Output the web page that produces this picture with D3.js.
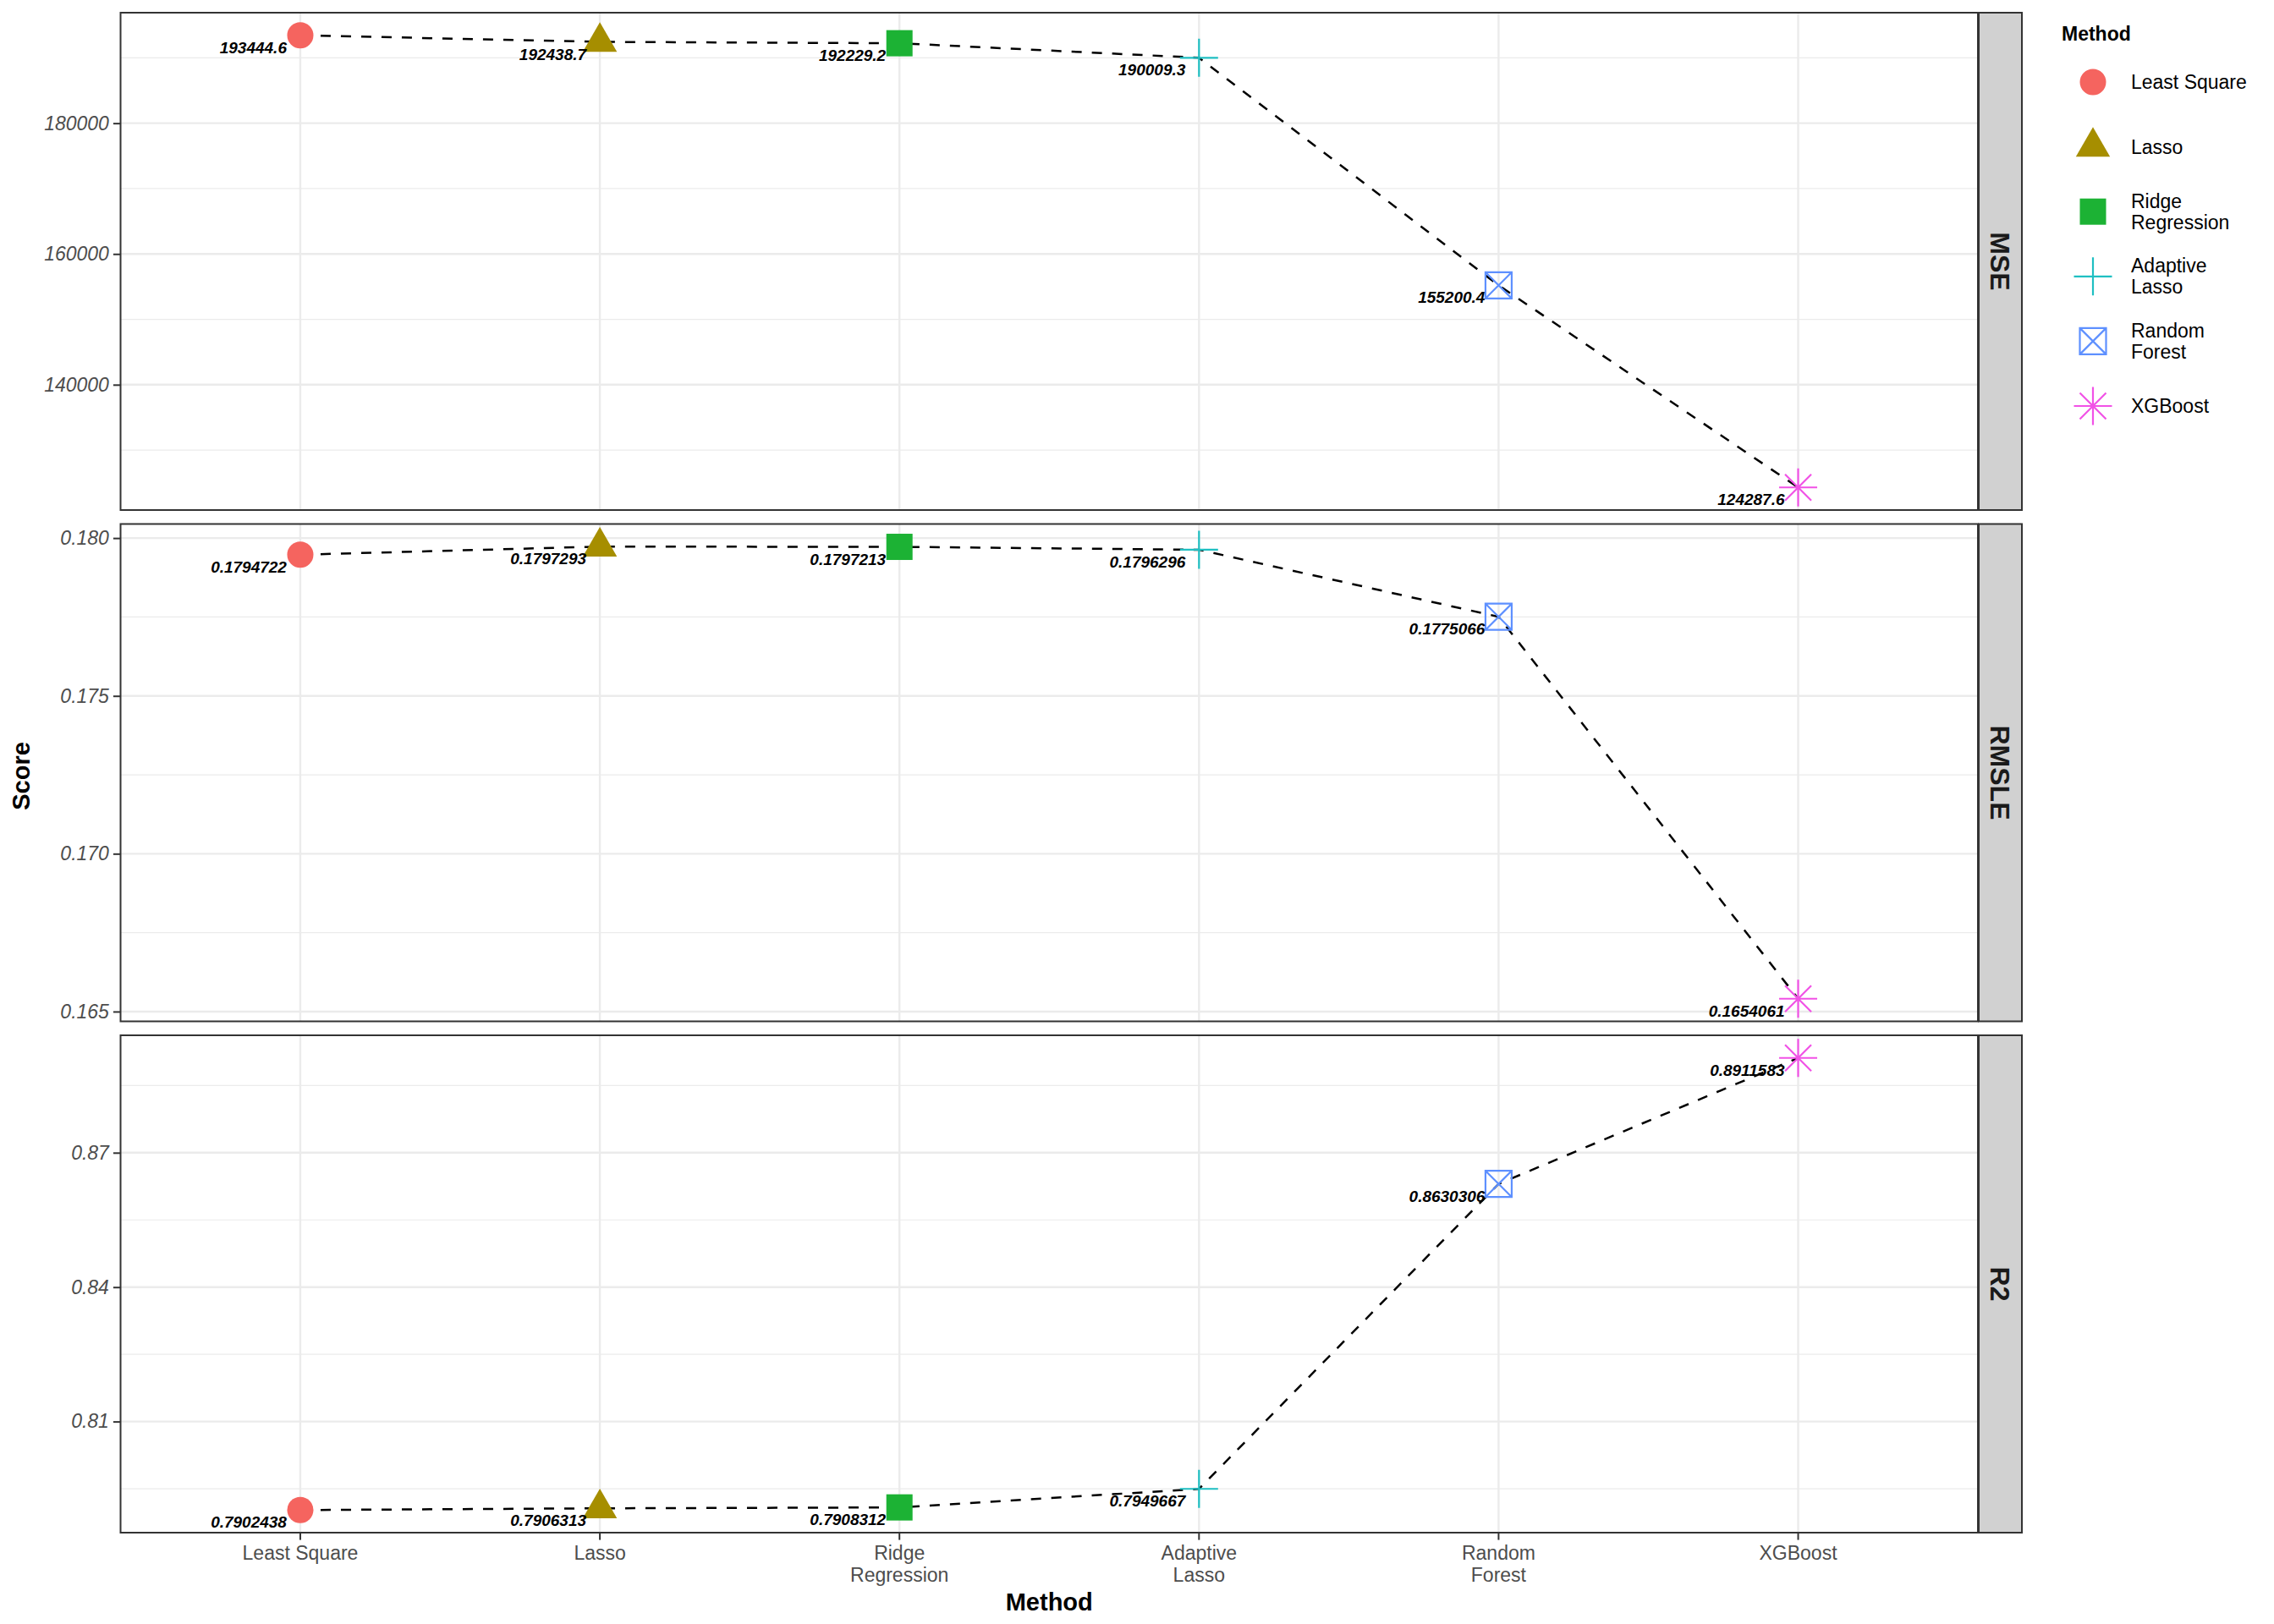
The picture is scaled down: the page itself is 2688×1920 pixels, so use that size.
<!DOCTYPE html>
<html><head><meta charset="utf-8">
<script src="https://cdn.jsdelivr.net/npm/d3@7"></script>
<style>body{margin:0;background:#fff}</style>
</head><body><svg id="c" width="2688" height="1920"></svg>
<script>
// ---------- DATA ----------
const methods = ["Least Square","Lasso","Ridge Regression","Adaptive Lasso","Random Forest","XGBoost"];
const methodLines = [["Least Square"],["Lasso"],["Ridge","Regression"],["Adaptive","Lasso"],["Random","Forest"],["XGBoost"]];
const metrics = ["MSE","RMSLE","R2"];
const mseValues   = [193444.6, 192438.7, 192229.2, 190009.3, 155200.4, 124287.6];
const rmsleValues = [0.1794722, 0.1797293, 0.1797213, 0.1796296, 0.1775066, 0.1654061];
const r2Values    = [0.7902438, 0.7906313, 0.7908312, 0.7949667, 0.8630306, 0.8911583];
const mseLabels   = ["193444.6","192438.7","192229.2","190009.3","155200.4","124287.6"];
const rmsleLabels = ["0.1794722","0.1797293","0.1797213","0.1796296","0.1775066","0.1654061"];
const r2Labels    = ["0.7902438","0.7906313","0.7908312","0.7949667","0.8630306","0.8911583"];
const mseTicks = [140000,160000,180000];
const rmsleTicks = [0.165,0.170,0.175,0.180];
const r2Ticks = [0.81,0.84,0.87];
const mseTickLabels = ["140000","160000","180000"];
const rmsleTickLabels = ["0.165","0.170","0.175","0.180"];
const r2TickLabels = ["0.81","0.84","0.87"];
const colors = ["#F5645F","#A68E00","#1CB234","#1FBFC2","#5E90FF","#F152E6"];
const shapes = ["circle","triangle","square","plus","squarecross","asterisk"];

const panelsData = [
  {name: metrics[0], values: mseValues, labels: mseLabels, ticks: mseTicks, tickLabels: mseTickLabels},
  {name: metrics[1], values: rmsleValues, labels: rmsleLabels, ticks: rmsleTicks, tickLabels: rmsleTickLabels},
  {name: metrics[2], values: r2Values, labels: r2Labels, ticks: r2Ticks, tickLabels: r2TickLabels}
];

// ---------- LAYOUT ----------
const svg = d3.select("#c");
const FONT = "'Liberation Sans', Arial, Helvetica, sans-serif";
const L = 142.5, R = 2338, PH = 588, PSTEP = 604.5, TOP0 = 15;
const stripW = 51;
const x = d3.scalePoint().domain(methods).range([L, R]).padding(0.6);

function drawShape(g, shape, color) {
  const sw = 2.2;
  if (shape === "circle") {
    g.append("circle").attr("r", 15.5).attr("fill", color);
  } else if (shape === "triangle") {
    const s = 15;
    g.append("path").attr("d", `M0,${-1.555*s} L${1.3468*s},${0.7776*s} L${-1.3468*s},${0.7776*s} Z`).attr("fill", color);
  } else if (shape === "square") {
    g.append("rect").attr("x", -15.5).attr("y", -15.5).attr("width", 31).attr("height", 31).attr("fill", color);
  } else if (shape === "plus") {
    g.append("path").attr("d", "M-22.5,0 L22.5,0 M0,-22.5 L0,22.5").attr("stroke", color).attr("stroke-width", sw).attr("fill", "none");
  } else if (shape === "squarecross") {
    g.append("path").attr("d", "M-15.5,-15.5 L15.5,-15.5 L15.5,15.5 L-15.5,15.5 Z M-15.5,-15.5 L15.5,15.5 M15.5,-15.5 L-15.5,15.5")
      .attr("stroke", color).attr("stroke-width", sw).attr("fill", "none");
  } else if (shape === "asterisk") {
    g.append("path").attr("d", "M-22.5,0 L22.5,0 M0,-22.5 L0,22.5 M-15.5,-15.5 L15.5,15.5 M15.5,-15.5 L-15.5,15.5")
      .attr("stroke", color).attr("stroke-width", sw).attr("fill", "none");
  }
}

panelsData.forEach((p, i) => {
  const top = TOP0 + i * PSTEP, bot = top + PH;
  const mn = d3.min(p.values), mx = d3.max(p.values), rg = mx - mn;
  const y = d3.scaleLinear().domain([mn - 0.05*rg, mx + 0.05*rg]).range([bot, top]);
  const g = svg.append("g");
  // minor gridlines
  const step = p.ticks[1] - p.ticks[0];
  const ext = [p.ticks[0] - step].concat(p.ticks, [p.ticks[p.ticks.length-1] + step]);
  const minors = [];
  for (let k = 0; k < ext.length - 1; k++) minors.push((ext[k] + ext[k+1]) / 2);
  const dom = y.domain();
  g.selectAll(".minor").data(minors.filter(v => v >= dom[0] && v <= dom[1])).enter().append("line")
    .attr("x1", L).attr("x2", R).attr("y1", d => y(d)).attr("y2", d => y(d))
    .attr("stroke", "#EBEBEB").attr("stroke-width", 1.2);
  // major gridlines
  g.selectAll(".major").data(p.ticks).enter().append("line")
    .attr("x1", L).attr("x2", R).attr("y1", d => y(d)).attr("y2", d => y(d))
    .attr("stroke", "#EBEBEB").attr("stroke-width", 2.4);
  g.selectAll(".vmajor").data(methods).enter().append("line")
    .attr("x1", d => x(d)).attr("x2", d => x(d)).attr("y1", top).attr("y2", bot)
    .attr("stroke", "#EBEBEB").attr("stroke-width", 2.4);
  // dashed line
  const line = d3.line().x((d, k) => x(methods[k])).y(d => y(d));
  g.append("path").datum(p.values).attr("d", line).attr("fill", "none")
    .attr("stroke", "#000").attr("stroke-width", 2.5).attr("stroke-dasharray", "12,12");
  // points
  p.values.forEach((v, k) => {
    const pg = g.append("g").attr("transform", `translate(${x(methods[k])},${y(v)})`);
    drawShape(pg, shapes[k], colors[k]);
  });
  // value labels
  g.selectAll(".vl").data(p.values).enter().append("text")
    .attr("x", (d, k) => x(methods[k]) - 16).attr("y", d => y(d) + 21)
    .attr("text-anchor", "end").attr("font-family", FONT).attr("font-size", 19)
    .attr("font-weight", "bold").attr("font-style", "italic").attr("fill", "#000")
    .text((d, k) => p.labels[k]);
  // panel border
  g.append("rect").attr("x", L).attr("y", top).attr("width", R - L).attr("height", PH)
    .attr("fill", "none").attr("stroke", "#333333").attr("stroke-width", 2);
  // y axis
  const ax = d3.axisLeft(y).tickValues(p.ticks).tickFormat((d, k) => p.tickLabels[k]).tickSize(8.6).tickPadding(5);
  const ag = g.append("g").attr("transform", `translate(${L},0)`).call(ax);
  ag.select(".domain").remove();
  ag.selectAll(".tick line").attr("stroke", "#333333").attr("stroke-width", 2);
  ag.selectAll(".tick text").attr("font-family", FONT).attr("font-size", 23).attr("font-style", "italic")
    .attr("fill", "#4D4D4D");
  // strip
  g.append("rect").attr("x", R + 1).attr("y", top).attr("width", stripW).attr("height", PH)
    .attr("fill", "#D1D1D1").attr("stroke", "#333333").attr("stroke-width", 2);
  g.append("text").attr("transform", `translate(${R + 1 + stripW/2},${top + PH/2}) rotate(90)`)
    .attr("text-anchor", "middle").attr("dy", "0.36em").attr("font-family", FONT).attr("font-size", 32)
    .attr("font-weight", "bold").attr("fill", "#1A1A1A").text(p.name);

  if (i === panelsData.length - 1) {
    // x axis
    const xg = svg.append("g");
    methods.forEach((m, k) => {
      xg.append("line").attr("x1", x(m)).attr("x2", x(m)).attr("y1", bot).attr("y2", bot + 8.6)
        .attr("stroke", "#333333").attr("stroke-width", 2);
      const t = xg.append("text").attr("text-anchor", "middle").attr("font-family", FONT)
        .attr("font-size", 23).attr("fill", "#4D4D4D");
      methodLines[k].forEach((ln, j) => {
        t.append("tspan").attr("x", x(m)).attr("y", bot + 32 + j * 26).text(ln);
      });
    });
  }
});

// axis titles
svg.append("text").attr("x", (L + R) / 2).attr("y", 1904).attr("text-anchor", "middle")
  .attr("font-family", FONT).attr("font-size", 29).attr("font-weight", "bold").attr("fill", "#000").text("Method");
svg.append("text").attr("transform", `translate(25,${TOP0 + (2*PSTEP + PH)/2 + 4}) rotate(-90)`)
  .attr("text-anchor", "middle").attr("dy", "0.36em")
  .attr("font-family", FONT).attr("font-size", 29).attr("font-weight", "bold").attr("fill", "#000").text("Score");

// legend
const lg = svg.append("g");
lg.append("text").attr("x", 2437).attr("y", 48).attr("font-family", FONT).attr("font-size", 23)
  .attr("font-weight", "bold").attr("fill", "#000").text("Method");
methods.forEach((m, k) => {
  const cy = 97 + k * 76.6;
  const kg = lg.append("g").attr("transform", `translate(2474,${cy})`);
  drawShape(kg, shapes[k], colors[k]);
  const lines = methodLines[k];
  const t = lg.append("text").attr("font-family", FONT).attr("font-size", 23).attr("fill", "#000");
  lines.forEach((ln, j) => {
    const off = (j - (lines.length - 1) / 2) * 25;
    t.append("tspan").attr("x", 2519).attr("y", cy + off + 8).text(ln);
  });
});
</script>
</body></html>
